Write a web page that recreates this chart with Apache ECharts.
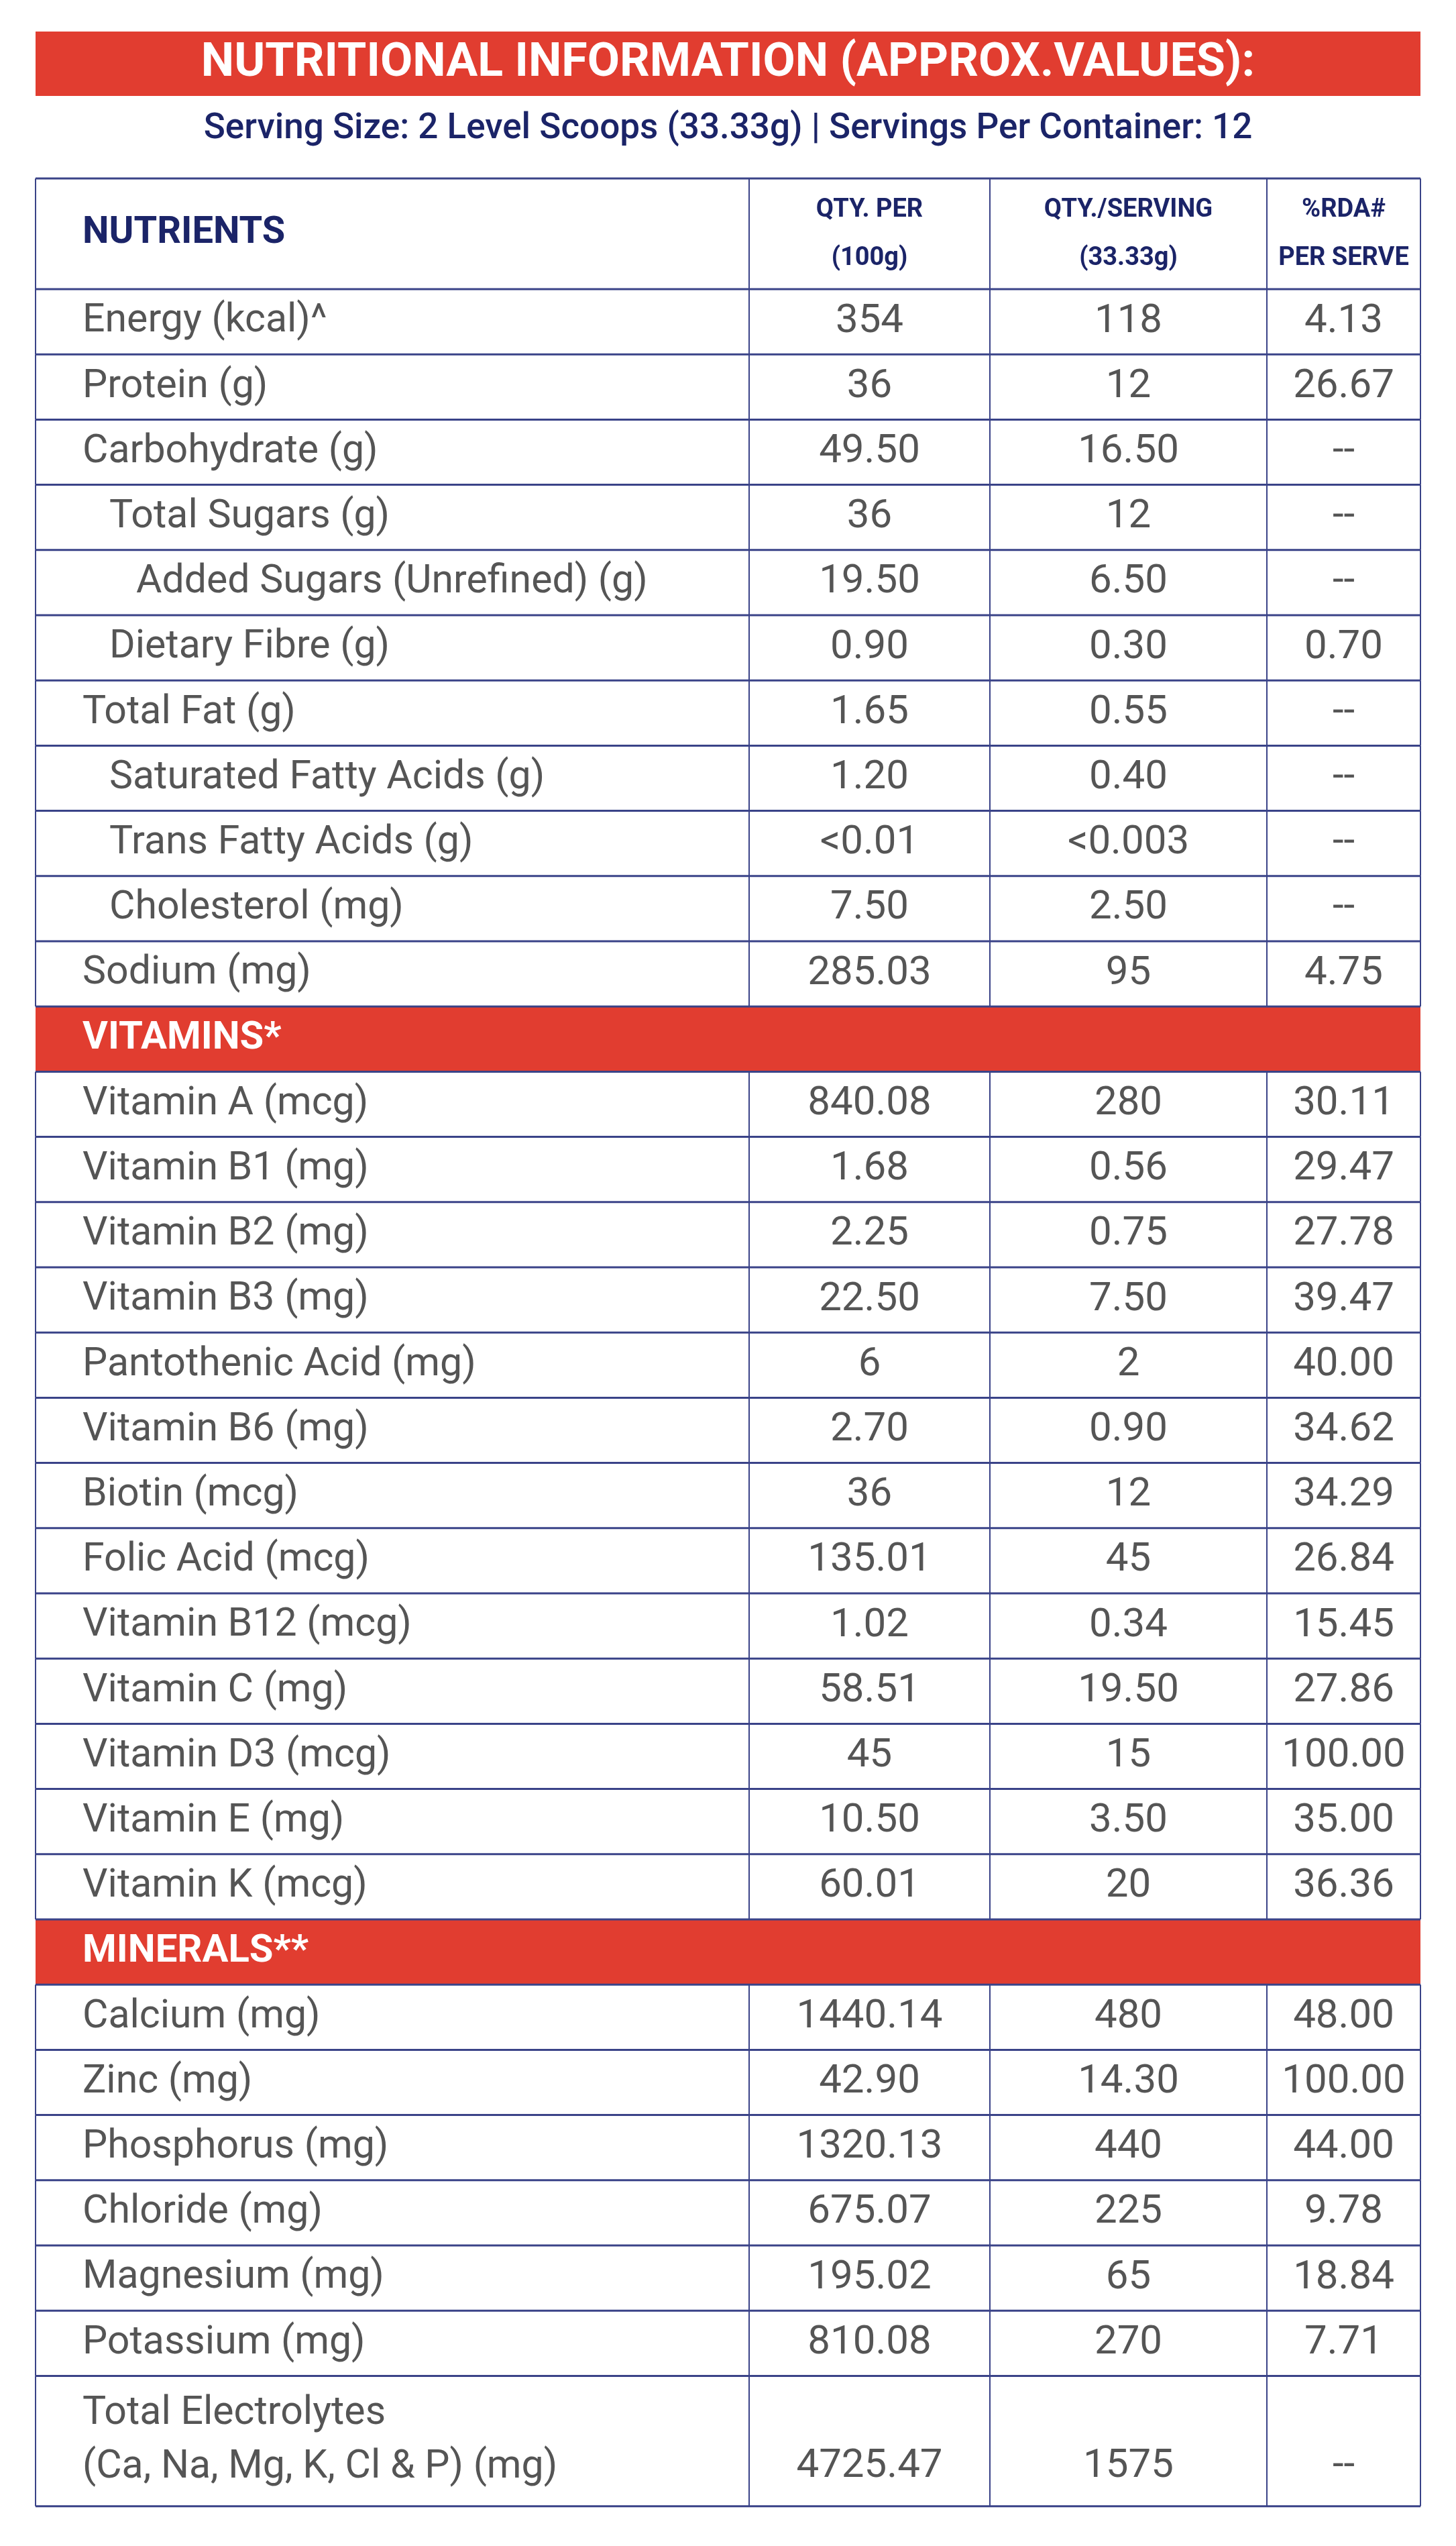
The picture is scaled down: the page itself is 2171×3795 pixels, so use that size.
<!DOCTYPE html>
<html><head><meta charset="utf-8">
<script src="https://cdn.jsdelivr.net/npm/echarts@6/dist/echarts.min.js"></script>
<style>html,body{margin:0;padding:0;background:#fff}#main{width:2171px;height:3795px}</style>
</head><body><div id="main"></div>
<script>
var title = 'NUTRITIONAL INFORMATION (APPROX.VALUES):';
var subtitle = 'Serving Size: 2 Level Scoops (33.33g) | Servings Per Container: 12';
var colHeads = [['QTY. PER', '(100g)'], ['QTY./SERVING', '(33.33g)'], ['%RDA#', 'PER SERVE']];
// [label, indent level, per100g, perServing, rda]
var nutrients = [
  ['Energy (kcal)^', 0, '354', '118', '4.13'],
  ['Protein (g)', 0, '36', '12', '26.67'],
  ['Carbohydrate (g)', 0, '49.50', '16.50', '--'],
  ['Total Sugars (g)', 1, '36', '12', '--'],
  ['Added Sugars (Unrefined) (g)', 2, '19.50', '6.50', '--'],
  ['Dietary Fibre (g)', 1, '0.90', '0.30', '0.70'],
  ['Total Fat (g)', 0, '1.65', '0.55', '--'],
  ['Saturated Fatty Acids (g)', 1, '1.20', '0.40', '--'],
  ['Trans Fatty Acids (g)', 1, '<0.01', '<0.003', '--'],
  ['Cholesterol (mg)', 1, '7.50', '2.50', '--'],
  ['Sodium (mg)', 0, '285.03', '95', '4.75']
];
var vitamins = [
  ['Vitamin A (mcg)', 0, '840.08', '280', '30.11'],
  ['Vitamin B1 (mg)', 0, '1.68', '0.56', '29.47'],
  ['Vitamin B2 (mg)', 0, '2.25', '0.75', '27.78'],
  ['Vitamin B3 (mg)', 0, '22.50', '7.50', '39.47'],
  ['Pantothenic Acid (mg)', 0, '6', '2', '40.00'],
  ['Vitamin B6 (mg)', 0, '2.70', '0.90', '34.62'],
  ['Biotin (mcg)', 0, '36', '12', '34.29'],
  ['Folic Acid (mcg)', 0, '135.01', '45', '26.84'],
  ['Vitamin B12 (mcg)', 0, '1.02', '0.34', '15.45'],
  ['Vitamin C (mg)', 0, '58.51', '19.50', '27.86'],
  ['Vitamin D3 (mcg)', 0, '45', '15', '100.00'],
  ['Vitamin E (mg)', 0, '10.50', '3.50', '35.00'],
  ['Vitamin K (mcg)', 0, '60.01', '20', '36.36']
];
var minerals = [
  ['Calcium (mg)', 0, '1440.14', '480', '48.00'],
  ['Zinc (mg)', 0, '42.90', '14.30', '100.00'],
  ['Phosphorus (mg)', 0, '1320.13', '440', '44.00'],
  ['Chloride (mg)', 0, '675.07', '225', '9.78'],
  ['Magnesium (mg)', 0, '195.02', '65', '18.84'],
  ['Potassium (mg)', 0, '810.08', '270', '7.71'],
  ['Total Electrolytes\n(Ca, Na, Mg, K, Cl & P) (mg)', 0, '4725.47', '1575', '--']
];

var RED = '#e13d30', NAVY = '#1b2468', GREY = '#555555', LINE = '#3a4388';
var L = 53, R = 2118, colX = [L, 1117, 1476, 1889, R];
var tableTop = 266, headBottom = 431, rowH = 97.2;
var FONT = 'Roboto, "Liberation Sans", sans-serif';
var g = [];

g.push({type: 'rect', shape: {x: L, y: 47, width: R - L, height: 96}, style: {fill: RED}});
g.push({type: 'text', x: (L + R) / 2, y: 95, style: {text: title, fill: '#fff', font: 'bold 70px ' + FONT, align: 'center', verticalAlign: 'middle'}});
g.push({type: 'text', x: (L + R) / 2, y: 193, style: {text: subtitle, fill: NAVY, font: '500 53px ' + FONT, align: 'center', verticalAlign: 'middle'}});

g.push({type: 'text', x: 123, y: 348, style: {text: 'NUTRIENTS', fill: NAVY, font: 'bold 56px ' + FONT, verticalAlign: 'middle'}});
colHeads.forEach(function (h, i) {
  var cx = (colX[i + 1] + colX[i + 2]) / 2;
  g.push({type: 'text', x: cx, y: 313, style: {text: h[0], fill: NAVY, font: 'bold 38px ' + FONT, align: 'center', verticalAlign: 'middle'}});
  g.push({type: 'text', x: cx, y: 385, style: {text: h[1], fill: NAVY, font: 'bold 38px ' + FONT, align: 'center', verticalAlign: 'middle'}});
});

var y = headBottom, hLines = [tableTop, headBottom], vSegs = [[tableTop, headBottom]];
function addRows(rows) {
  rows.forEach(function (r) {
    var two = r[0].indexOf('\n') >= 0, h = two ? rowH * 2 : rowH;
    var mid = y + h / 2;
    var vy = two ? y + h * 0.7 : mid;
    g.push({type: 'text', x: 123 + r[1] * 40, y: two ? y + h * 0.5 : mid,
      style: {text: r[0], fill: GREY, font: '59px ' + FONT, verticalAlign: 'middle', lineHeight: 80}});
    for (var i = 0; i < 3; i++) {
      g.push({type: 'text', x: (colX[i + 1] + colX[i + 2]) / 2, y: vy,
        style: {text: r[i + 2], fill: GREY, font: '60px ' + FONT, align: 'center', verticalAlign: 'middle'}});
    }
    vSegs.push([y, y + h]);
    y += h;
    hLines.push(y);
  });
}
function addSection(name) {
  g.push({type: 'rect', shape: {x: L, y: y, width: R - L, height: rowH}, style: {fill: RED}});
  g.push({type: 'text', x: 123, y: y + rowH / 2, style: {text: name, fill: '#fff', font: 'bold 58px ' + FONT, verticalAlign: 'middle'}});
  y += rowH;
  hLines.push(y);
}
addRows(nutrients);
addSection('VITAMINS*');
addRows(vitamins);
addSection('MINERALS**');
addRows(minerals);

vSegs.forEach(function (s) {
  colX.forEach(function (x) {
    g.push({type: 'line', shape: {x1: x, y1: s[0], x2: x, y2: s[1]}, style: {stroke: LINE, lineWidth: 2}});
  });
});
hLines.forEach(function (hy) {
  g.push({type: 'line', shape: {x1: L, y1: hy, x2: R, y2: hy}, style: {stroke: LINE, lineWidth: 3}});
});

var chart = echarts.init(document.getElementById('main'));
chart.setOption({backgroundColor: '#fff', graphic: {elements: g}});
</script></body></html>
